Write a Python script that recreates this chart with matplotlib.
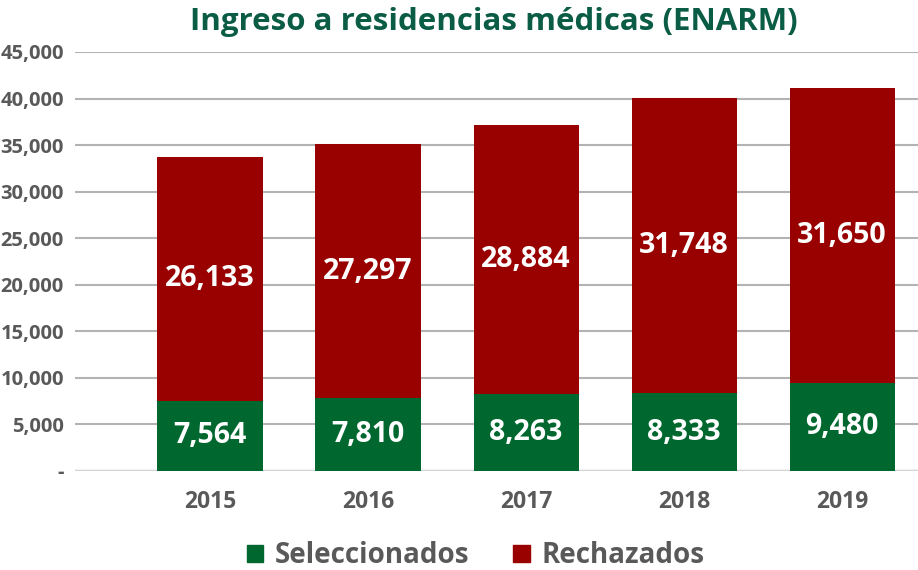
import matplotlib
matplotlib.use("Agg")
import matplotlib.pyplot as plt
from matplotlib.patches import Patch
import numpy as np

years = ["2015", "2016", "2017", "2018", "2019"]
seleccionados = [7564, 7810, 8263, 8333, 9480]
rechazados = [26133, 27297, 28884, 31748, 31650]

green = "#00672f"
red = "#990000"
gray_txt = "#595959"

plt.rcParams['font.family'] = ['Open Sans', 'DejaVu Sans']

fig = plt.figure(figsize=(9.18, 5.70), dpi=100)
ax = fig.add_axes([75/918, 1-471/570, 1-75/918, (471-52)/570])

x = np.arange(len(years))
w = 0.665
ax.bar(x, seleccionados, w, color=green, zorder=3)
ax.bar(x, rechazados, w, bottom=seleccionados, color=red, zorder=3)

for i in range(len(years)):
    ax.text(x[i], seleccionados[i]/2, f"{seleccionados[i]:,}", ha="center", va="center",
            color="white", fontsize=20.5, fontweight="bold", zorder=4)
    ax.text(x[i], seleccionados[i] + rechazados[i]/2, f"{rechazados[i]:,}", ha="center",
            va="center", color="white", fontsize=20.5, fontweight="bold", zorder=4)

ax.set_xlim(-0.854, 4.48)
ax.set_ylim(0, 45000)
yt = np.arange(0, 45001, 5000)
ax.set_yticks(yt)
ax.set_yticklabels(["-"] + [f"{v:,}" for v in yt[1:]])
ax.set_xticks(x)
ax.set_xticklabels(years)
for s in ax.spines.values():
    s.set_visible(False)
ax.tick_params(length=0, labelcolor=gray_txt)
ax.tick_params(axis="x", pad=14, labelsize=16.5)
ax.tick_params(axis="y", pad=8, labelsize=14.5)
for lb in ax.get_xticklabels() + ax.get_yticklabels():
    lb.set_fontweight("bold")
ax.yaxis.grid(True, color="#b3b3b3", linewidth=1.5, zorder=0)
ax.axhline(0, color="#d4d4d4", linewidth=2.5, zorder=2)
ax.set_axisbelow(True)

fig.text(0.538, 0.962, "Ingreso a residencias médicas (ENARM)", ha="center", va="center",
         color="#0b5c45", fontsize=22.5, fontweight="bold")

handles = [Patch(color=green, label="Seleccionados"), Patch(color=red, label="Rechazados")]
fig.legend(handles=handles, loc="center", bbox_to_anchor=(0.518, 0.025), ncol=2, frameon=False,
           prop={"size": 20, "weight": "bold"}, labelcolor=gray_txt, handlelength=0.6,
           handleheight=0.6, handletextpad=0.4, columnspacing=1.6)

fig.savefig("out.png", dpi=100)
